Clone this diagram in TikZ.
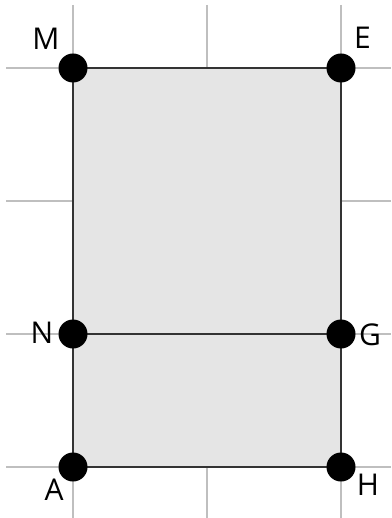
\documentclass[tikz,border=0pt]{standalone}
\usepackage{fontspec}
\setmainfont{Open Sans}
\tikzset{
  gridline/.style={draw=black!25,line width=1.6pt},
  edge/.style={draw=black!80,line width=2.6pt},
  dot/.style={circle,fill=black,inner sep=0pt,minimum size=29pt},
  lbl/.style={inner sep=0pt,font=\fontsize{30}{36}\selectfont}
}
\begin{document}
\begin{tikzpicture}[x=1pt,y=-1pt]
  \useasboundingbox (0,0) rectangle (391,518);
  % grid
  \foreach \gx in {73,207,341}
    \draw[gridline] (\gx,5) -- (\gx,518);
  \foreach \gy in {68,201,334,467}
    \draw[gridline] (6,\gy) -- (391,\gy);
  % points
  \coordinate (m) at (73,68);
  \coordinate (e) at (341,68);
  \coordinate (n) at (73,334);
  \coordinate (g) at (341,334);
  \coordinate (a) at (73,467);
  \coordinate (h) at (341,467);
  % rectangle
  \fill[black!10] (m) rectangle (h);
  \draw[edge] (m) -- (e) -- (h) -- (a) -- cycle;
  \draw[edge] (n) -- (g);
  % vertices
  \node[dot] (M) at (m) {};
  \node[dot] (E) at (e) {};
  \node[dot] (N) at (n) {};
  \node[dot] (G) at (g) {};
  \node[dot] (A) at (a) {};
  \node[dot] (H) at (h) {};
  % labels
  \node[lbl] (labM) at (46,39) {M};
  \node[lbl] (labE) at (362.5,38) {E};
  \node[lbl] (labN) at (42,332.5) {N};
  \node[lbl] (labG) at (370,335) {G};
  \node[lbl] (labA) at (54,490) {A};
  \node[lbl] (labH) at (368,485) {H};
\end{tikzpicture}
\end{document}
